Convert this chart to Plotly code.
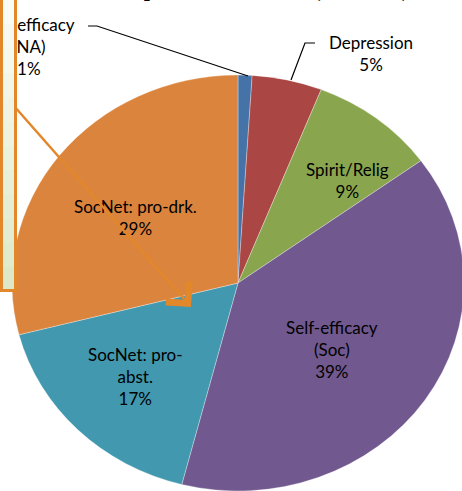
import plotly.graph_objects as go

# slices, clockwise from 12 o'clock
labels = ["Self-efficacy (NA)", "Depression", "Spirit/Relig",
          "Self-efficacy (Soc)", "SocNet: pro-abst.", "SocNet: pro-drk."]
values = [1, 5, 9, 39, 17, 29]
colors = ["#4572A7", "#AA4643", "#89A54E", "#71588F", "#4198AF", "#DB843D"]

# how each label is broken into lines, and where its text block is centred (px)
label_lines = [["Self-efficacy", "(NA)"], ["Depression"], ["Spirit/Relig"],
               ["Self-efficacy", "(Soc)"], ["SocNet: pro-", "abst."], ["SocNet: pro-drk."]]
label_pos = [(29, 47), (371, 53), (347, 181), (332, 349), (135, 376), (135, 217)]

W, H = 462, 491
FONT = "Lato, Calibri, sans-serif"
ORANGE = "#E2872A"
CX = 238          # pie centre, px
STRETCH = 1.087   # the source chart is a bit wider than tall


def px(x):
    return x / W


def py(y):
    return 1 - y / H


fig = go.Figure(go.Pie(
    labels=labels,
    values=values,
    textinfo="none",
    marker=dict(colors=colors, line=dict(color="rgba(255,255,255,0.5)", width=0.6)),
    sort=False,
    direction="clockwise",
    rotation=0,
    domain=dict(x=[px(CX - 208), px(CX + 208)], y=[0, py(75)]),
    hoverinfo="label+percent",
))

total = sum(values)
annotations = [
    # cut-off title
    dict(text="<b>Outpatients (n=8)</b>", x=px(238), y=py(5), xref="paper", yref="paper",
         xanchor="center", yanchor="bottom", showarrow=False,
         font=dict(family=FONT, size=44, color="black")),
]
for lines, v, (x, y) in zip(label_lines, values, label_pos):
    text = "<br>".join(lines + [f"{round(100 * v / total)}%"])
    annotations.append(dict(
        text=text, x=px(x), y=py(y), xref="paper", yref="paper",
        xanchor="center", yanchor="middle", showarrow=False, align="center",
        font=dict(family=FONT, size=17, color="black")))

# callout box on the left, light gradient fill
n_bands = 12
box_h = 291
top_rgb, bot_rgb = (249, 251, 245), (222, 232, 200)
for i in range(n_bands):
    t = i / (n_bands - 1)
    rgb = [round(a + (b - a) * t) for a, b in zip(top_rgb, bot_rgb)]
    annotations.append(dict(
        text=" ", x=0, y=py(i * box_h / n_bands), xref="paper", yref="paper",
        xanchor="left", yanchor="top", width=14, height=box_h / n_bands + 1,
        bgcolor=f"rgb({rgb[0]},{rgb[1]},{rgb[2]})", borderwidth=0, borderpad=0,
        showarrow=False))
annotations += [
    dict(text=" ", x=0, y=py(-3), xref="paper", yref="paper", xanchor="left", yanchor="top",
         width=11, height=box_h - 2, bgcolor="rgba(0,0,0,0)", bordercolor=ORANGE,
         borderwidth=3, borderpad=0, showarrow=False),
    # arrow from the box into the chart
    dict(text="", x=px(191), y=py(307), xref="paper", yref="paper",
         ax=14 - 191, ay=106 - 307, showarrow=True, arrowhead=4, arrowsize=2.4,
         arrowwidth=2.5, arrowcolor=ORANGE),
]

shapes = [
    dict(type="path", xref="paper", yref="paper",
         path=f"M {px(88)},{py(26)} L {px(97)},{py(26)} L {px(248)},{py(76)}",
         line=dict(color="black", width=1.2)),
    dict(type="path", xref="paper", yref="paper",
         path=f"M {px(291)},{py(80)} L {px(305)},{py(43)} L {px(315)},{py(43)}",
         line=dict(color="black", width=1.2)),
]

fig.update_layout(
    width=W, height=H,
    margin=dict(l=0, r=0, t=0, b=0),
    paper_bgcolor="white",
    showlegend=False,
    annotations=annotations,
    shapes=shapes,
    font=dict(family=FONT),
)

# no page margin, and widen the pie horizontally like the source image
post = (
    "document.body.style.margin='0';"
    "var pl=document.querySelector('.pielayer');"
    f"if(pl){{pl.setAttribute('transform','translate({CX},0) scale({STRETCH},1) translate({-CX},0)');}}"
)
fig.write_html("out.html", post_script=post, config={"displayModeBar": False})
